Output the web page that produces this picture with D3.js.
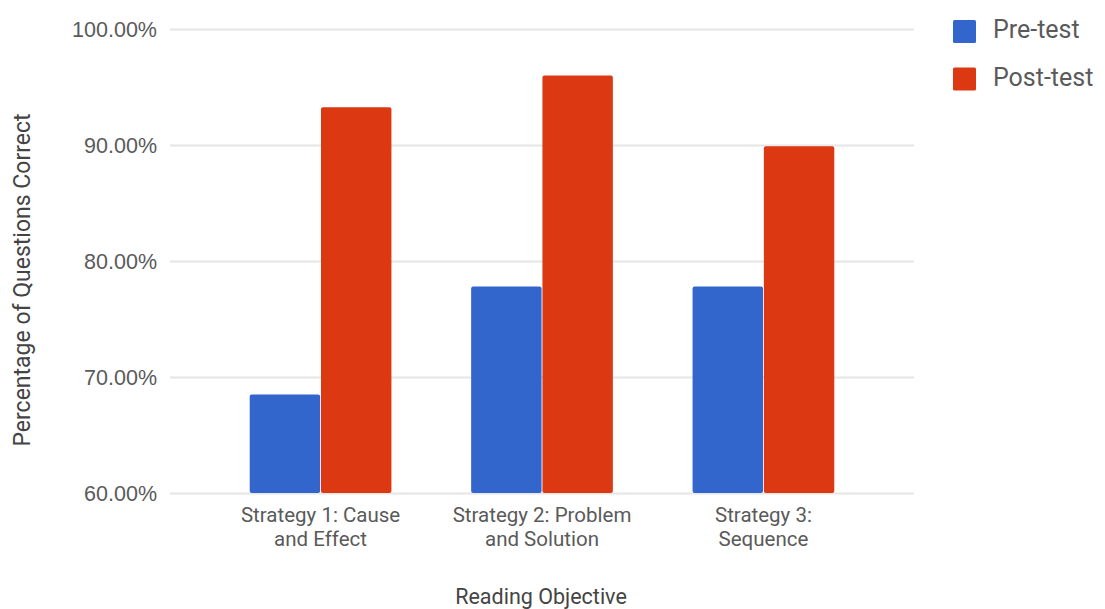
<!DOCTYPE html>
<html>
<head>
<meta charset="utf-8">
<script src="https://cdn.jsdelivr.net/npm/d3@7"></script>
<style>
  html, body { margin: 0; padding: 0; background: #fff; }
  svg { display: block; font-family: Roboto, "Noto Sans", sans-serif; }
</style>
</head>
<body>
<svg id="chart" width="1105" height="609"></svg>
<script>
// Reading objectives (category labels, split into lines)
const categories = ["Strategy 1: Cause and Effect", "Strategy 2: Problem and Solution", "Strategy 3: Sequence"];
const categoryLines = [["Strategy 1: Cause", "and Effect"], ["Strategy 2: Problem", "and Solution"], ["Strategy 3:", "Sequence"]];
const seriesNames = ["Pre-test", "Post-test"];
const preTest = [68.5, 77.8, 77.8];
const postTest = [93.25, 96.0, 89.9];
const yTicks = [60, 70, 80, 90, 100];
const seriesColors = ["#3366cc", "#dc3912"];

const svg = d3.select("#chart");
const plot = { left: 170, right: 914, top: 29, bottom: 493 };

const x = d3.scaleBand().domain(categories).range([plot.left, plot.right]).paddingInner(0.36).paddingOuter(0.36);
const xs = d3.scaleBand().domain(seriesNames).range([0, x.bandwidth()]).paddingInner(0.012);
const y = d3.scaleLinear().domain([60, 100]).range([plot.bottom, plot.top]);
const color = d3.scaleOrdinal().domain(seriesNames).range(seriesColors);

// Horizontal gridlines and tick labels
const yAxis = d3.axisLeft(y).tickValues(yTicks).tickSize(-(plot.right - plot.left)).tickPadding(13)
  .tickFormat(d => d.toFixed(2) + "%");
const gy = svg.append("g").attr("transform", `translate(${plot.left},0)`).call(yAxis);
gy.select(".domain").remove();
gy.selectAll(".tick line").attr("stroke", "#e6e6e6").attr("stroke-width", 2);
gy.selectAll(".tick text").attr("fill", "#5a5a5a").attr("font-size", 21.5).attr("dy", "0.35em");

// Bars
const rows = categories.map((c, i) => ({ cat: c, values: [preTest[i], postTest[i]] }));
const groups = svg.append("g").selectAll("g").data(rows).join("g")
  .attr("transform", d => `translate(${x(d.cat)},0)`);
groups.selectAll("rect").data(d => d.values.map((v, j) => ({ key: seriesNames[j], v })))
  .join("rect")
  .attr("x", d => xs(d.key))
  .attr("width", xs.bandwidth())
  .attr("y", d => y(d.v))
  .attr("height", d => y(60) - y(d.v))
  .attr("rx", 2)
  .attr("fill", d => color(d.key));

// Category labels, one text element per line
const xl = svg.append("g");
categories.forEach((c, i) => {
  categoryLines[i].forEach((line, k) => {
    xl.append("text")
      .attr("x", x(c) + x.bandwidth() / 2)
      .attr("y", 522 + k * 24.2)
      .attr("text-anchor", "middle")
      .attr("font-size", 20.5)
      .attr("fill", "#5a5a5a")
      .text(line);
  });
});

// Axis titles
svg.append("text")
  .attr("x", (plot.left + plot.right) / 2 - 1)
  .attr("y", 604)
  .attr("text-anchor", "middle")
  .attr("font-size", 21.5)
  .attr("fill", "#444")
  .text("Reading Objective");

svg.append("text")
  .attr("transform", "translate(30,280) rotate(-90)")
  .attr("text-anchor", "middle")
  .attr("font-size", 23)
  .attr("fill", "#444")
  .text("Percentage of Questions Correct");

// Legend
const legend = svg.append("g").selectAll("g").data(seriesNames).join("g")
  .attr("transform", (d, i) => `translate(953,${20 + i * 47.5})`);
legend.append("rect").attr("width", 23).attr("height", 23).attr("rx", 1.5).attr("fill", d => color(d));
legend.append("text").attr("x", 40).attr("y", 18).attr("font-size", 25).attr("fill", "#5a5a5a").text(d => d);
</script>
</body>
</html>
